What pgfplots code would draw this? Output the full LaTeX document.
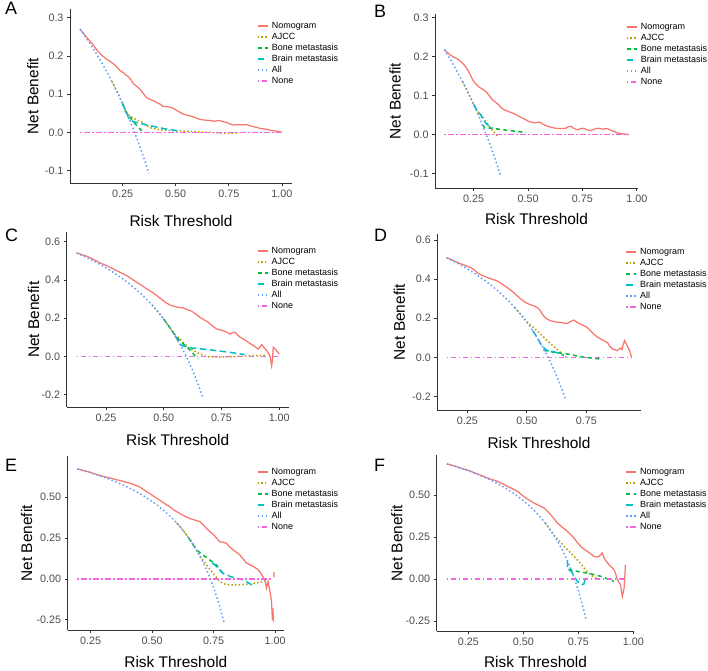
\documentclass[border=0pt]{standalone}
\usepackage{pgfplots}
\pgfplotsset{compat=1.18}
\usepackage{fontspec}
\setmainfont{Liberation Sans}
\newfontfamily\tickfont{Liberation Sans}[Color=4D4D4D]
\definecolor{cNom}{HTML}{F8766D}
\definecolor{cAJCC}{HTML}{B79F00}
\definecolor{cBone}{HTML}{00BA38}
\definecolor{cBrain}{HTML}{00BFC4}
\definecolor{cAll}{HTML}{619CFF}
\definecolor{cNone}{HTML}{F564E3}
\tikzset{
  nom/.style={draw=cNom, line width=1.25bp, solid},
  ajcc/.style={draw=cAJCC, line width=1.5bp, dash pattern=on 1.5bp off 2.2bp},
  bone/.style={draw=cBone, line width=1.5bp, dash pattern=on 4bp off 3.5bp},
  brain/.style={draw=cBrain, line width=1.5bp, dash pattern=on 6.5bp off 3.5bp},
  allst/.style={draw=cAll, line width=1.5bp, dash pattern=on 1.5bp off 2.5bp},
  nonest/.style={draw=cNone, line width=1.5bp, dash pattern=on 1.5bp off 2.5bp on 5.5bp off 2.5bp},
}
\pgfplotsset{
  dca/.style={
    scale only axis, anchor=south west,
    axis x line*=bottom, axis y line*=left,
    axis line style={-, draw=black!80, line width=0.8bp},
    tick style={draw=black!80, line width=0.8bp},
    tick align=outside, major tick length=3bp, minor tick num=0,
    ticklabel style={font=\tickfont\fontsize{10.8}{12}\selectfont},
    every axis x label/.style={anchor=center, inner sep=0pt, font=\fontsize{15.5}{18}\selectfont},
    every axis y label/.style={rotate=90, anchor=center, inner sep=0pt, font=\fontsize{15.5}{18}\selectfont},
    xlabel={Risk Threshold}, ylabel={Net Benefit},
    legend style={draw=none, fill=none, anchor=north west, inner sep=0pt, outer sep=0pt,
      font=\fontsize{9}{11}\selectfont, row sep=2bp, column sep=3.3bp,
      nodes={inner sep=0pt, text height=7bp, text depth=2bp}},
    legend cell align=left,
    legend image code/.code={\draw[##1, line width=1.7bp] (0bp,0bp) -- (10bp,0bp);},
    unbounded coords=jump,
  }
}
\begin{document}
\begin{tikzpicture}
\path[use as bounding box] (0,0) rectangle (708bp,671bp);
\node[anchor=base west, font=\fontsize{18}{20}\selectfont] at (1.5bp,656bp) {A};
\node[anchor=base west, font=\fontsize{18}{20}\selectfont] at (370.5bp,653.7bp) {B};
\node[anchor=base west, font=\fontsize{18}{20}\selectfont] at (1.5bp,429bp) {C};
\node[anchor=base west, font=\fontsize{18}{20}\selectfont] at (370.5bp,429bp) {D};
\node[anchor=base west, font=\fontsize{18}{20}\selectfont] at (1.5bp,199bp) {E};
\node[anchor=base west, font=\fontsize{18}{20}\selectfont] at (370.5bp,199bp) {F};

% ---------------- A
\begin{axis}[dca, at={(70bp,488bp)}, width=222bp, height=174bp,
  xmin=0.0025, xmax=1.0475, ymin=-0.1327, ymax=0.3228,
  xtick={0,0.25,0.5,0.75,1}, xticklabels={0.00,0.25,0.50,0.75,1.00},
  ytick={-0.1,0,0.1,0.2,0.3}, yticklabels={-0.1,0.0,0.1,0.2,0.3},
  xlabel style={at={(axis description cs:0.5,-0.218)}},
  ylabel style={at={(axis description cs:-0.167,0.5)}},
  legend style={at={(0.842,0.928)}}]
\addplot[nom] coordinates {(0.05,0.270)(0.07,0.256)(0.09,0.243)(0.11,0.230)(0.128,0.216)(0.15,0.203)(0.175,0.191)(0.19,0.186)(0.214,0.176)(0.235,0.163)(0.254,0.156)(0.265,0.150)(0.277,0.146)(0.29,0.137)(0.30,0.128)(0.315,0.121)(0.332,0.113)(0.348,0.101)(0.363,0.091)(0.38,0.086)(0.394,0.083)(0.41,0.078)(0.426,0.074)(0.44,0.068)(0.457,0.067)(0.47,0.066)(0.488,0.063)(0.505,0.057)(0.527,0.050)(0.545,0.046)(0.567,0.043)(0.59,0.039)(0.613,0.034)(0.635,0.032)(0.66,0.031)(0.68,0.029)(0.707,0.031)(0.72,0.028)(0.739,0.026)(0.755,0.022)(0.77,0.019)(0.80,0.020)(0.833,0.020)(0.85,0.017)(0.88,0.013)(0.90,0.010)(0.926,0.008)(0.95,0.005)(0.973,0.003)(1.0,0.0)};
\addplot[ajcc] coordinates {(0.20,0.1331)(0.225,0.1052)(0.25,0.0753)(0.27,0.050)(0.30,0.037)(0.34,0.027)(0.36,0.018)(0.38,0.012)(0.42,0.007)(0.45,0.005)(0.55,0.003)(0.65,0.0)(0.75,-0.003)(0.80,-0.001)};
\addplot[bone] coordinates {(0.25,0.0753)(0.265,0.054)(0.30,0.028)(0.34,0.004)};
\addplot[brain] coordinates {(0.25,0.0753)(0.28,0.036)(0.30,0.028)(0.35,0.021)(0.40,0.015)(0.45,0.009)(0.51,0.004)};
\addplot[allst] coordinates {(0.05,0.2700)(0.075,0.2503)(0.10,0.2294)(0.125,0.2074)(0.15,0.1841)(0.175,0.1594)(0.20,0.1331)(0.225,0.1052)(0.25,0.0753)(0.275,0.0434)(0.30,0.0093)(0.325,-0.0274)(0.35,-0.0669)(0.374,-0.1078)};
\addplot[nonest] coordinates {(0.05,0)(1.0,0)};
\legend{Nomogram,AJCC,Bone metastasis,Brain metastasis,All,None}
\end{axis}

% ---------------- B
\begin{axis}[dca, at={(435bp,483bp)}, width=203bp, height=174bp,
  xmin=0.0725, xmax=1.0055, ymin=-0.1374, ymax=0.3095,
  xtick={0.25,0.5,0.75,1}, xticklabels={0.25,0.50,0.75,1.00},
  ytick={-0.1,0,0.1,0.2,0.3}, yticklabels={-0.1,0.0,0.1,0.2,0.3},
  xlabel style={at={(axis description cs:0.5,-0.178)}},
  ylabel style={at={(axis description cs:-0.197,0.5)}},
  legend style={at={(0.940,0.953)}}]
\addplot[nom] coordinates {(0.115,0.218)(0.14,0.205)(0.161,0.198)(0.175,0.194)(0.192,0.187)(0.208,0.178)(0.223,0.166)(0.235,0.153)(0.246,0.140)(0.26,0.130)(0.276,0.121)(0.29,0.117)(0.307,0.110)(0.322,0.100)(0.337,0.089)(0.35,0.083)(0.36,0.079)(0.375,0.070)(0.391,0.063)(0.41,0.059)(0.429,0.055)(0.45,0.049)(0.468,0.044)(0.485,0.039)(0.506,0.033)(0.53,0.030)(0.552,0.032)(0.57,0.026)(0.59,0.021)(0.61,0.018)(0.628,0.016)(0.65,0.015)(0.674,0.016)(0.685,0.020)(0.697,0.021)(0.71,0.016)(0.728,0.012)(0.74,0.015)(0.758,0.016)(0.775,0.011)(0.789,0.010)(0.805,0.014)(0.820,0.016)(0.84,0.014)(0.866,0.015)(0.88,0.011)(0.896,0.008)(0.91,0.004)(0.927,0.002)(0.945,0.001)(0.965,0.0)};
\addplot[ajcc] coordinates {(0.20,0.135)(0.225,0.1071)(0.25,0.0773)(0.27,0.058)(0.291,0.046)(0.31,0.030)(0.33,0.016)(0.36,-0.005)};
\addplot[bone] coordinates {(0.29,0.025)(0.30,0.018)(0.35,0.015)(0.40,0.011)(0.45,0.008)(0.49,0.005)};
\addplot[brain] coordinates {(0.25,0.0773)(0.265,0.062)(0.283,0.050)(0.30,0.033)(0.314,0.025)(0.337,0.016)};
\addplot[allst] coordinates {(0.115,0.2181)(0.125,0.2091)(0.15,0.1859)(0.175,0.1612)(0.20,0.135)(0.225,0.1071)(0.25,0.0773)(0.275,0.0455)(0.30,0.0114)(0.325,-0.0252)(0.35,-0.0646)(0.375,-0.1072)};
\addplot[nonest] coordinates {(0.115,0)(0.965,0)};
\legend{Nomogram,AJCC,Bone metastasis,Brain metastasis,All,None}
\end{axis}

% ---------------- C
\begin{axis}[dca, at={(66.7bp,263.7bp)}, width=222bp, height=175.3bp,
  xmin=0.080, xmax=1.041, ymin=-0.267, ymax=0.651,
  xtick={0.25,0.5,0.75,1}, xticklabels={0.25,0.50,0.75,1.00},
  ytick={-0.2,0,0.2,0.4,0.6}, yticklabels={-0.2,0.0,0.2,0.4,0.6},
  xlabel style={at={(axis description cs:0.5,-0.188)}},
  ylabel style={at={(axis description cs:-0.149,0.5)}},
  legend style={at={(0.856,0.919)}}]
\addplot[nom] coordinates {(0.123,0.541)(0.145,0.533)(0.167,0.524)(0.19,0.511)(0.21,0.498)(0.23,0.486)(0.253,0.475)(0.275,0.462)(0.296,0.449)(0.32,0.434)(0.34,0.423)(0.36,0.406)(0.383,0.388)(0.405,0.371)(0.426,0.353)(0.45,0.336)(0.47,0.318)(0.49,0.299)(0.513,0.278)(0.53,0.267)(0.549,0.260)(0.565,0.256)(0.585,0.253)(0.60,0.246)(0.621,0.236)(0.64,0.220)(0.657,0.204)(0.675,0.191)(0.693,0.178)(0.71,0.160)(0.729,0.143)(0.745,0.138)(0.765,0.131)(0.787,0.117)(0.798,0.124)(0.809,0.126)(0.82,0.112)(0.830,0.100)(0.845,0.090)(0.859,0.079)(0.875,0.066)(0.888,0.056)(0.90,0.046)(0.910,0.038)(0.924,0.061)(0.935,0.045)(0.946,0.030)(0.955,0.012)(0.960,0.003)(0.967,-0.049)(0.971,-0.02)(0.974,0.047)(0.981,0.040)(0.988,0.030)(1.0,0.012)};
\addplot[ajcc] coordinates {(0.45,0.2682)(0.475,0.2333)(0.50,0.195)(0.525,0.1526)(0.55,0.113)(0.577,0.082)(0.606,0.047)(0.642,0.021)(0.685,-0.002)(0.75,-0.004)(0.80,-0.002)(0.888,0.003)(0.946,0.003)};
\addplot[bone] coordinates {(0.50,0.195)(0.525,0.1526)(0.55,0.108)(0.575,0.075)(0.60,0.05)(0.62,0.025)(0.637,0.0)(0.65,-0.012)};
\addplot[brain] coordinates {(0.55,0.106)(0.572,0.062)(0.58,0.056)(0.62,0.044)(0.70,0.034)(0.78,0.022)(0.85,0.009)};
\addplot[allst] coordinates {(0.123,0.5410)(0.15,0.5265)(0.175,0.5121)(0.20,0.4969)(0.225,0.4806)(0.25,0.4633)(0.275,0.4448)(0.30,0.4250)(0.325,0.4037)(0.35,0.3808)(0.375,0.3560)(0.40,0.3292)(0.425,0.3000)(0.45,0.2682)(0.475,0.2333)(0.50,0.1950)(0.525,0.1526)(0.55,0.1056)(0.575,0.0529)(0.60,-0.0063)(0.625,-0.0733)(0.65,-0.1500)(0.669,-0.2160)};
\addplot[nonest] coordinates {(0.123,0)(1.0,0)};
\legend{Nomogram,AJCC,Bone metastasis,Brain metastasis,All,None}
\end{axis}

% ---------------- D
\begin{axis}[dca, at={(437.3bp,261bp)}, width=203.4bp, height=176bp,
  xmin=0.124, xmax=0.9786, ymin=-0.270, ymax=0.632,
  xtick={0.25,0.5,0.75}, xticklabels={0.25,0.50,0.75},
  ytick={-0.2,0,0.2,0.4,0.6}, yticklabels={-0.2,0.0,0.2,0.4,0.6},
  xlabel style={at={(axis description cs:0.5,-0.1875)}},
  ylabel style={at={(axis description cs:-0.187,0.5)}},
  legend style={at={(0.924,0.925)}}]
\addplot[nom] coordinates {(0.163,0.511)(0.18,0.502)(0.194,0.494)(0.215,0.483)(0.236,0.473)(0.25,0.466)(0.264,0.460)(0.28,0.447)(0.292,0.434)(0.31,0.421)(0.334,0.409)(0.355,0.400)(0.376,0.391)(0.395,0.377)(0.418,0.357)(0.44,0.337)(0.46,0.315)(0.478,0.296)(0.495,0.281)(0.512,0.271)(0.530,0.264)(0.544,0.255)(0.555,0.242)(0.565,0.221)(0.58,0.200)(0.600,0.187)(0.62,0.181)(0.642,0.179)(0.655,0.175)(0.670,0.174)(0.685,0.184)(0.698,0.191)(0.71,0.180)(0.726,0.170)(0.74,0.162)(0.754,0.153)(0.768,0.135)(0.782,0.119)(0.795,0.105)(0.810,0.094)(0.825,0.084)(0.838,0.077)(0.848,0.058)(0.859,0.043)(0.868,0.040)(0.880,0.034)(0.888,0.042)(0.894,0.048)(0.90,0.040)(0.905,0.065)(0.911,0.085)(0.916,0.072)(0.922,0.060)(0.93,0.040)(0.936,0.017)(0.940,0.0)};
\addplot[ajcc] coordinates {(0.45,0.2545)(0.475,0.219)(0.50,0.183)(0.544,0.136)(0.586,0.085)(0.621,0.048)(0.649,0.017)(0.665,0.0)};
\addplot[bone] coordinates {(0.57,0.036)(0.614,0.026)(0.67,0.017)(0.726,0.003)(0.782,-0.005)(0.81,-0.009)};
\addplot[brain] coordinates {(0.525,0.1368)(0.54,0.108)(0.555,0.075)(0.57,0.05)(0.586,0.034)(0.61,0.030)(0.63,0.022)(0.656,0.008)};
\addplot[allst] coordinates {(0.163,0.5102)(0.175,0.5030)(0.20,0.4875)(0.225,0.4710)(0.25,0.4533)(0.275,0.4345)(0.30,0.4143)(0.325,0.3926)(0.35,0.3692)(0.375,0.3440)(0.40,0.3167)(0.425,0.2870)(0.45,0.2545)(0.475,0.2190)(0.50,0.1800)(0.525,0.1368)(0.55,0.0889)(0.575,0.0353)(0.60,-0.0250)(0.625,-0.0933)(0.65,-0.1714)(0.663,-0.2166)};
\addplot[nonest] coordinates {(0.163,0)(0.94,0)};
\legend{Nomogram,AJCC,Bone metastasis,Brain metastasis,All,None}
\end{axis}

% ---------------- E
\begin{axis}[dca, at={(67.7bp,40.7bp)}, width=216.3bp, height=174bp,
  xmin=0.157, xmax=1.036, ymin=-0.3136, ymax=0.75,
  xtick={0.25,0.5,0.75,1}, xticklabels={0.25,0.50,0.75,1.00},
  ytick={-0.25,0,0.25,0.5}, yticklabels={-0.25,0.00,0.25,0.50},
  xlabel style={at={(axis description cs:0.5,-0.180)}},
  ylabel style={at={(axis description cs:-0.190,0.5)}},
  legend style={at={(0.874,0.936)}}]
\addplot[nom] coordinates {(0.196,0.673)(0.22,0.663)(0.247,0.653)(0.27,0.641)(0.288,0.633)(0.31,0.624)(0.329,0.617)(0.35,0.609)(0.369,0.602)(0.39,0.594)(0.410,0.586)(0.43,0.575)(0.450,0.562)(0.47,0.542)(0.491,0.522)(0.51,0.502)(0.532,0.481)(0.55,0.462)(0.572,0.441)(0.59,0.420)(0.613,0.400)(0.633,0.384)(0.653,0.370)(0.674,0.360)(0.694,0.350)(0.708,0.330)(0.721,0.309)(0.735,0.290)(0.748,0.273)(0.762,0.250)(0.775,0.228)(0.789,0.224)(0.802,0.218)(0.815,0.196)(0.829,0.178)(0.843,0.163)(0.856,0.148)(0.87,0.122)(0.884,0.097)(0.897,0.087)(0.911,0.077)(0.921,0.067)(0.931,0.057)(0.938,0.045)(0.945,0.026)(0.952,0.010)(0.958,-0.004)(0.965,-0.055)(0.971,-0.014)(0.976,-0.05)(0.981,-0.095)(0.985,-0.135)(0.989,-0.25)(0.991,-0.18)(0.993,-0.26)(0.994,nan)(0.995,0.01)(0.996,0.042)};
\addplot[ajcc] coordinates {(0.60,0.3425)(0.625,0.2987)(0.65,0.2486)(0.675,0.1908)(0.694,0.140)(0.72,0.088)(0.75,0.030)(0.775,-0.015)(0.80,-0.035)(0.85,-0.036)(0.90,-0.030)(0.94,-0.020)(0.965,-0.005)};
\addplot[bone] coordinates {(0.65,0.2486)(0.68,0.178)(0.72,0.132)(0.762,0.085)(0.785,0.038)};
\addplot[brain] coordinates {(0.745,0.10)(0.762,0.075)(0.789,0.034)(0.82,0.014)(0.873,-0.006)(0.909,-0.040)(0.917,-0.044)};
\addplot[allst] coordinates {(0.196,0.6729)(0.225,0.6606)(0.25,0.6493)(0.275,0.6372)(0.30,0.6243)(0.325,0.6104)(0.35,0.5954)(0.375,0.5792)(0.40,0.5617)(0.425,0.5426)(0.45,0.5218)(0.475,0.4990)(0.50,0.4740)(0.525,0.4463)(0.55,0.4156)(0.575,0.3812)(0.60,0.3425)(0.625,0.2987)(0.65,0.2486)(0.675,0.1908)(0.70,0.1233)(0.725,0.0436)(0.75,-0.0520)(0.775,-0.1689)(0.792,-0.2644)};
\addplot[nonest] coordinates {(0.196,0)(0.99,0)};
\legend{Nomogram,AJCC,Bone metastasis,Brain metastasis,All,None}
\end{axis}

% ---------------- F
\begin{axis}[dca, at={(436.7bp,39.7bp)}, width=197.6bp, height=176bp,
  xmin=0.106, xmax=1.0045, ymin=-0.311, ymax=0.736,
  xtick={0.25,0.5,0.75,1}, xticklabels={0.25,0.50,0.75,1.00},
  ytick={-0.25,0,0.25,0.5}, yticklabels={-0.25,0.00,0.25,0.50},
  xlabel style={at={(axis description cs:0.5,-0.176)}},
  ylabel style={at={(axis description cs:-0.202,0.5)}},
  legend style={at={(0.954,0.929)}}]
\addplot[nom] coordinates {(0.152,0.685)(0.175,0.676)(0.200,0.667)(0.23,0.654)(0.261,0.641)(0.285,0.628)(0.306,0.617)(0.32,0.610)(0.336,0.601)(0.36,0.591)(0.382,0.581)(0.405,0.567)(0.427,0.552)(0.45,0.537)(0.473,0.522)(0.49,0.503)(0.511,0.482)(0.53,0.467)(0.548,0.452)(0.57,0.438)(0.594,0.423)(0.61,0.403)(0.624,0.383)(0.64,0.358)(0.655,0.333)(0.68,0.305)(0.700,0.284)(0.715,0.264)(0.730,0.244)(0.745,0.218)(0.761,0.194)(0.775,0.178)(0.791,0.165)(0.806,0.150)(0.821,0.135)(0.833,0.131)(0.844,0.135)(0.852,0.145)(0.859,0.155)(0.863,0.14)(0.867,0.125)(0.878,0.105)(0.889,0.085)(0.90,0.072)(0.912,0.056)(0.92,0.03)(0.927,-0.004)(0.935,-0.02)(0.942,-0.034)(0.946,-0.07)(0.950,-0.103)(0.954,-0.08)(0.958,-0.054)(0.961,0.006)(0.964,0.085)};
\addplot[ajcc] coordinates {(0.60,0.3325)(0.625,0.288)(0.639,0.26)(0.67,0.217)(0.70,0.175)(0.745,0.115)(0.791,0.042)(0.821,0.010)(0.84,0.0)};
\addplot[bone] coordinates {(0.705,0.058)(0.75,0.044)(0.80,0.033)(0.85,0.017)(0.912,-0.014)};
\addplot[brain] coordinates {(0.70,0.11)(0.702,0.06)(0.72,0.042)(0.74,-0.004)(0.76,-0.034)(0.775,-0.03)(0.783,0.006)};
\addplot[allst] coordinates {(0.152,0.6851)(0.175,0.6764)(0.20,0.6662)(0.225,0.6555)(0.25,0.6440)(0.275,0.6317)(0.30,0.6186)(0.325,0.6044)(0.35,0.5892)(0.375,0.5728)(0.40,0.5550)(0.425,0.5357)(0.45,0.5145)(0.475,0.4914)(0.50,0.4660)(0.525,0.4379)(0.55,0.4067)(0.575,0.3718)(0.60,0.3325)(0.625,0.2880)(0.65,0.2371)(0.675,0.1785)(0.70,0.1100)(0.725,0.0291)(0.75,-0.0680)(0.775,-0.1867)(0.786,-0.2477)};
\addplot[nonest] coordinates {(0.152,0)(0.964,0)};
\legend{Nomogram,AJCC,Bone metastasis,Brain metastasis,All,None}
\end{axis}
\end{tikzpicture}
\end{document}
